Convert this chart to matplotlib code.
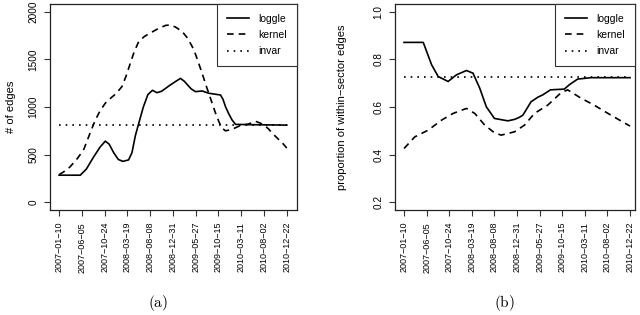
import numpy as np
import matplotlib
matplotlib.use("Agg")
import matplotlib.pyplot as plt

plt.rcParams['font.family'] = ['Liberation Sans', 'DejaVu Sans']
plt.rcParams['mathtext.fontset'] = 'cm'

# tick dates (x positions are the tick index 0..10)
dates = ["2007-01-10", "2007-06-05", "2007-10-24", "2008-03-19", "2008-08-08",
         "2008-12-31", "2009-05-27", "2009-10-15", "2010-03-11", "2010-08-02",
         "2010-12-22"]
date_labels = [d.replace("-", "\u2212") for d in dates]

# (a) number of edges
edges_ticks = [0, 500, 1000, 1500, 2000]
edges_loggle_x = [0.0, 0.93, 1.2, 1.5, 1.8, 2.03, 2.2, 2.4, 2.6, 2.8, 3.05, 3.2,
                  3.35, 3.5, 3.7, 3.9, 4.1, 4.3, 4.5, 4.89, 5.1, 5.33, 5.5, 5.8,
                  5.99, 6.28, 6.58, 7.09, 7.2, 7.31, 7.45, 7.6, 7.75, 8.3, 10.0]
edges_loggle_y = [285, 285, 350, 470, 580, 642, 610, 520, 450, 430, 445, 520,
                  700, 830, 1000, 1130, 1175, 1150, 1165, 1232, 1265, 1300, 1270, 1190,
                  1161, 1168, 1144, 1126, 1080, 1003, 930, 863, 818, 815, 810]
edges_kernel_x = [0.0, 0.2, 0.48, 0.8, 1.07, 1.35, 1.59, 1.8, 2.03, 2.3, 2.5, 2.76,
                  2.95, 3.13, 3.3, 3.5, 3.75, 4.0, 4.3, 4.67, 4.85, 5.1, 5.4, 5.65,
                  5.92, 6.1, 6.28, 6.45, 6.65, 6.85, 7.02, 7.15, 7.31, 7.5, 7.68,
                  8.0, 8.3, 8.63, 8.85, 9.0, 9.2, 9.37, 9.6, 9.8, 10.0]
edges_kernel_y = [290, 320, 372, 460, 547, 720, 863, 960, 1040, 1100, 1140, 1214,
                  1330, 1460, 1580, 1688, 1740, 1775, 1815, 1855, 1860, 1840, 1793, 1720,
                  1600, 1480, 1355, 1230, 1091, 950, 845, 780, 750, 760, 775,
                  810, 820, 850, 830, 810, 770, 723, 670, 625, 570]
edges_invar = 810

# (b) proportion of within-sector edges
prop_ticks = [0.2, 0.4, 0.6, 0.8, 1.0]
prop_loggle_x = [0.0, 0.85, 1.22, 1.51, 1.95, 2.32, 2.76, 3.05, 3.35, 3.64, 4.0,
                 4.59, 4.89, 5.11, 5.26, 5.62, 5.92, 6.14, 6.48, 7.09, 7.31, 7.68,
                 8.27, 10.0]
prop_loggle_y = [0.871, 0.871, 0.777, 0.728, 0.707, 0.735, 0.753, 0.742, 0.679,
                 0.601, 0.552, 0.542, 0.548, 0.557, 0.566, 0.622, 0.641, 0.651,
                 0.672, 0.675, 0.693, 0.717, 0.723, 0.723]
prop_kernel_x = [0.0, 0.48, 1.07, 1.66, 2.17, 2.76, 3.13, 3.57, 4.0, 4.3, 4.89,
                 5.33, 5.77, 6.36, 6.95, 7.24, 7.83, 8.41, 9.15, 10.0]
prop_kernel_y = [0.426, 0.475, 0.503, 0.545, 0.573, 0.594, 0.573, 0.524, 0.492,
                 0.482, 0.496, 0.524, 0.573, 0.608, 0.660, 0.672, 0.637, 0.608,
                 0.566, 0.520]
prop_invar = 0.725

fig = plt.figure(figsize=(6.4, 3.15), dpi=100)
W, H = 640.0, 315.0
ax1 = fig.add_axes([50 / W, (H - 210) / H, 247 / W, 206 / H])
ax2 = fig.add_axes([395 / W, (H - 210) / H, 240 / W, 206 / H])

lw = 1.2


def style(ax, yticks, ylabels, ylim, xlim, ylabel, labelpad):
    ax.set_xlim(*xlim)
    ax.set_ylim(*ylim)
    ax.set_xticks(range(len(dates)))
    ax.set_xticklabels(date_labels, rotation=90, fontsize=6.5)
    ax.set_yticks(yticks)
    ax.set_yticklabels(ylabels, rotation=90, va='center', fontsize=7.2)
    ax.tick_params(direction='out', length=4.3, width=0.8, color='#333333')
    ax.tick_params(axis='x', pad=4.3)
    ax.tick_params(axis='y', pad=4.0)
    for s in ax.spines.values():
        s.set_linewidth(0.9)
        s.set_color('#222222')
    ax.set_ylabel(ylabel, fontsize=8, labelpad=labelpad)
    leg = ax.legend(loc='upper right', borderaxespad=0, fancybox=False,
                    edgecolor='#333333', framealpha=1, fontsize=7.5,
                    handlelength=2.1, handletextpad=0.9, labelspacing=0.6,
                    borderpad=0.95)
    leg.get_frame().set_linewidth(0.8)


ax1.plot(edges_loggle_x, edges_loggle_y, color='black', lw=lw, label='loggle')
ax1.plot(edges_kernel_x, edges_kernel_y, color='black', lw=lw, dashes=(4, 3), label='kernel')
ax1.plot([0, len(dates) - 1], [edges_invar, edges_invar], color='black', lw=lw,
         dashes=(1, 3), label='invar')
style(ax1, edges_ticks, [str(t) for t in edges_ticks], (-80, 2080), (-0.4, 10.45),
      '# of edges', 9)

ax2.plot(prop_loggle_x, prop_loggle_y, color='black', lw=lw, label='loggle')
ax2.plot(prop_kernel_x, prop_kernel_y, color='black', lw=lw, dashes=(4, 3), label='kernel')
ax2.plot([0, len(dates) - 1], [prop_invar, prop_invar], color='black', lw=lw,
         dashes=(1, 3), label='invar')
style(ax2, prop_ticks, ["%.1f" % t for t in prop_ticks], (0.168, 1.032), (-0.4, 10.22),
      'proportion of within\u2212sector edges', 19)

fig.text(158 / W, 1 - 303 / H, r'$\mathrm{(a)}$', ha='center', va='center', fontsize=11)
fig.text(504 / W, 1 - 303 / H, r'$\mathrm{(b)}$', ha='center', va='center', fontsize=11)

fig.savefig('out.png', dpi=100)
